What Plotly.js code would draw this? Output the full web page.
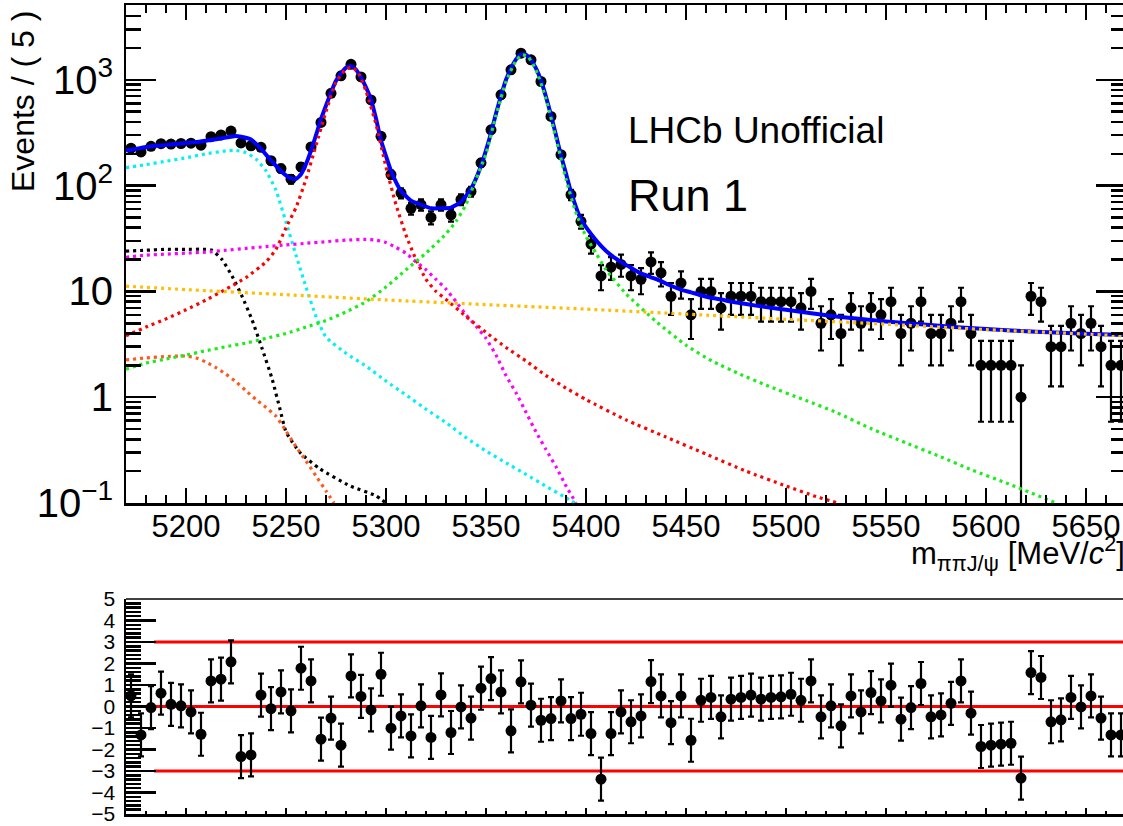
<!DOCTYPE html>
<html><head><meta charset="utf-8">
<script src="https://cdn.plot.ly/plotly-3.0.1.min.js"></script>
<style>html,body{margin:0;padding:0;overflow:hidden;background:#fff}</style>
</head><body><div id="plot" style="width:1128px;height:826px"></div>
<script>
// ---- data ----
const binCenters = [5172.5,5177.5,5182.5,5187.5,5192.5,5197.5,5202.5,5207.5,5212.5,5217.5,
5222.5,5227.5,5232.5,5237.5,5242.5,5247.5,5252.5,5257.5,5262.5,5267.5,
5272.5,5277.5,5282.5,5287.5,5292.5,5297.5,5302.5,5307.5,5312.5,5317.5,
5322.5,5327.5,5332.5,5337.5,5342.5,5347.5,5352.5,5357.5,5362.5,5367.5,
5372.5,5377.5,5382.5,5387.5,5392.5,5397.5,5402.5,5407.5,5412.5,5417.5,
5422.5,5427.5,5432.5,5437.5,5442.5,5447.5,5452.5,5457.5,5462.5,5467.5,
5472.5,5477.5,5482.5,5487.5,5492.5,5497.5,5502.5,5507.5,5512.5,5517.5,
5522.5,5527.5,5532.5,5537.5,5542.5,5547.5,5552.5,5557.5,5562.5,5567.5,
5572.5,5577.5,5582.5,5587.5,5592.5,5597.5,5602.5,5607.5,5612.5,5617.5,
5622.5,5627.5,5632.5,5637.5,5642.5,5647.5,5652.5,5657.5,5662.5,5667.5];

const events = [226,208,235,249,247,250,252,241,290,301,
328,253,238,230,172,145,115,150,232,395,
745,1090,1400,1065,646,292,127,85,61,66,
50,66,53,74,88,164,337,722,1243,1785,
1545,964,451,196,82,46,28,14,17,18,
14,13,19,15,9,12,6,10,10,7,
9,9,9,8,8,8,8,7,10,5,
6,4,7,5,7,6,8,4,5,8,
4,4,5,8,4,2,2,2,2,1,
9,8,3,3,5,4,5,3,2,2];

const pulls = [0.5,-1.32,-0.05,0.62,0.1,0.03,-0.25,-1.29,1.19,1.27,
2.08,-2.33,-2.25,0.53,-0.1,0.68,-0.2,1.78,1.19,-1.52,
-0.54,-1.8,1.42,0.47,-0.16,1.5,-1.01,-0.44,-1.37,0.03,
-1.44,0.54,-1.21,-0.02,-0.54,0.85,1.3,0.68,-1.13,1.15,
0.06,-0.64,-0.56,0.26,-0.56,-0.36,-1.26,-3.38,-1.26,-0.25,
-0.71,-0.44,1.16,0.49,-0.75,0.49,-1.57,0.29,0.42,-0.48,
0.34,0.42,0.53,0.34,0.42,0.45,0.57,0.29,1.19,-0.48,
0.03,-0.9,0.49,-0.25,0.65,0.26,0.99,-0.59,-0.05,1.07,
-0.48,-0.39,0.15,1.19,-0.31,-1.86,-1.8,-1.75,-1.71,-3.33,
1.58,1.35,-0.71,-0.62,0.42,-0.02,0.49,-0.54,-1.32,-1.32];
const pullErr = 1;

// total fit (blue)
const totalM = [5170,5172.5,5177.5,5182.5,5187.5,5192.5,5197.5,5202.5,5207.5,5212.5,5217.5,5222.5,5225,5227.5,5232.5,5237.5,5242.5,5247.5,5252.5,5255,5257.5,5260,5262.5,5265,5267.5,5270,5272.5,5275,5277.5,5280,5282.5,5285,5287.5,5290,5292.5,5295,5297.5,5300,5302.5,5305,5307.5,5312.5,5317.5,5322.5,5327.5,5332.5,5337.5,5342.5,5347.5,5350,5352.5,5355,5357.5,5360,5362.5,5365,5367.5,5370,5372.5,5375,5377.5,5380,5382.5,5385,5387.5,5390,5392.5,5397.5,5402.5,5407.5,5412.5,5417.5,5422.5,5427.5,5432.5,5437.5,5442.5,5447.5,5452.5,5457.5,5462.5,5467.5,5472.5,5480,5490,5500,5525,5550,5575,5600,5625,5650,5670];
const totalV = [214,218,227,236,239,245,250,256,261,270,279,290,294,290,273,222,173,137,117,116,128,160,214,300,425,570,760,980,1149,1300,1347,1250,1050,850,650,430,266,190,138,108,89,72,66,61,61,62,70,93,153,215,313,480,704,1000,1283,1560,1737,1720,1543,1280,984,690,463,300,192,130,87,48,35,27,22,19,16.7,14.8,13.6,12.5,11.3,10.4,9.8,9.2,8.7,8.4,8.0,7.6,7.1,6.7,5.8,5.2,4.75,4.4,4.15,3.97,3.86];

// components (dotted)
const cyanM = [5170,5180,5190,5200,5210,5220,5225,5230,5235,5240,5245,5250,5255,5260,5265,5270,5280,5290,5300,5310,5320,5330,5340,5350,5360,5370,5380,5390,5395];
const cyanV = [148,158,170,183,200,213,215,205,178,138,90,45,22,11,5.8,3.7,2.6,1.97,1.42,1.05,0.77,0.575,0.415,0.31,0.24,0.186,0.144,0.112,0.098];

const blackM = [5170,5180,5190,5200,5210,5213,5218,5223,5228,5233,5238,5243,5247,5250,5257,5267,5282,5295,5300];
const blackV = [24,24.5,25,25,25,24.5,20,14,9,5.4,2.9,1.5,0.77,0.47,0.3,0.21,0.145,0.117,0.1];

const oredM = [5170,5180,5190,5200,5205,5210,5215,5220,5225,5230,5235,5240,5245,5250,5255,5260,5265,5270,5274];
const oredV = [2.25,2.35,2.42,2.45,2.35,2.15,1.9,1.65,1.4,1.15,0.95,0.8,0.66,0.48,0.34,0.25,0.18,0.13,0.1];

const magM = [5170,5180,5190,5200,5210,5220,5230,5240,5250,5260,5270,5280,5290,5295,5300,5305,5310,5315,5320,5325,5330,5335,5340,5345,5350,5355,5360,5365,5370,5375,5380,5385,5390,5395];
const magV = [21,22,22.5,23,23.5,24.5,25.5,26.5,27.5,28.5,29.5,30.5,31,30.5,29,26,23,19,16,13,10.5,8,6,4.7,3.6,2.5,1.6,1.1,0.72,0.47,0.32,0.22,0.145,0.1];

const redM = [5170,5180,5190,5200,5210,5220,5230,5240,5245,5250,5255,5260,5265,5270,5275,5280,5283,5286,5290,5295,5300,5305,5310,5315,5320,5325,5330,5340,5350,5360,5370,5380,5390,5400,5420,5440,5460,5480,5500,5515,5526];
const redV = [3.8,4.6,5.5,6.7,8.3,10.5,13.5,19,25,40,62,115,240,500,950,1260,1310,1180,780,380,150,66,34,20,13,10,8.4,5.8,4.1,2.95,2.2,1.6,1.22,0.95,0.61,0.42,0.29,0.2,0.145,0.115,0.1];

const greenM = [5170,5180,5190,5200,5210,5220,5230,5240,5250,5260,5270,5280,5290,5300,5310,5320,5330,5335,5340,5345,5350,5355,5360,5365,5368,5371,5375,5380,5385,5390,5395,5400,5405,5410,5420,5435,5450,5463,5477,5490,5510,5525,5543,5560,5577,5593,5610,5635];
const greenV = [1.84,2.1,2.3,2.5,2.75,3.0,3.25,3.6,4.0,4.6,5.3,6.4,8.0,11,16,23,35,46,66,115,200,460,960,1520,1720,1650,1240,660,280,115,55,33,23,16,9.5,5.2,3.1,2.2,1.65,1.3,0.93,0.72,0.5,0.37,0.275,0.205,0.155,0.1];

const orangeM = [5170,5200,5250,5300,5350,5400,5450,5500,5550,5600,5650,5670];
const orangeV = [11.2,10.4,9.3,8.3,7.5,6.8,6.1,5.45,4.9,4.35,3.95,3.78];

const pullRefLevels = [3, 0, -3];
const pullRefRange = [5184, 5670];

// ---- build ----
const FONT = 'Liberation Sans, Arial, Helvetica, sans-serif';
const eventErr = events.map(v => Math.sqrt(v));
const dot = '3px,4px';

function comp(m, v, color) {
  return {x: m, y: v, mode: 'lines', type: 'scatter', xaxis: 'x', yaxis: 'y',
    line: {color: color, width: 3.2, dash: dot, shape: 'spline', smoothing: 0.5},
    hoverinfo: 'skip', showlegend: false};
}

const traces = [
  {x: binCenters, y: events, mode: 'markers', type: 'scatter', xaxis: 'x', yaxis: 'y',
   marker: {color: '#000', size: 11},
   error_y: {type: 'data', array: eventErr, arrayminus: eventErr, color: '#000', thickness: 2.2, width: 3},
   showlegend: false},
  {x: totalM, y: totalV, mode: 'lines', type: 'scatter', xaxis: 'x', yaxis: 'y',
   line: {color: '#0000ff', width: 4, shape: 'spline', smoothing: 0.5}, showlegend: false},
  comp(cyanM, cyanV, '#00f2f2'),
  comp(blackM, blackV, '#000000'),
  comp(oredM, oredV, '#ff5a1e'),
  comp(magM, magV, '#ff00ff'),
  comp(redM, redV, '#ff0000'),
  comp(greenM, greenV, '#18ee18'),
  comp(orangeM, orangeV, '#ffbf00'),
];
pullRefLevels.forEach(l => traces.push({
  x: pullRefRange, y: [l, l], mode: 'lines', type: 'scatter', xaxis: 'x2', yaxis: 'y2',
  line: {color: '#ff0000', width: 3}, showlegend: false, hoverinfo: 'skip'}));
traces.push({x: binCenters, y: pulls, mode: 'markers', type: 'scatter', xaxis: 'x2', yaxis: 'y2',
  marker: {color: '#000', size: 11},
  error_y: {type: 'constant', value: pullErr, color: '#000', thickness: 2.2, width: 3},
  showlegend: false});

const W = 1128, H = 826, L = 126, R = 2, T = 5, B = 12;
const PW = W - L - R, PH = H - T - B;
const py = p => (H - B - p) / PH;   // pixel y -> paper
const px = p => (p - L) / PW;       // pixel x -> paper

const layout = {
  width: W, height: H,
  margin: {l: L, r: R, t: T, b: B},
  paper_bgcolor: '#fff', plot_bgcolor: '#fff',
  font: {family: FONT, color: '#000'},
  showlegend: false,
  xaxis: {domain: [0, 1], range: [5170, 5670], anchor: 'y', showgrid: false, zeroline: false,
    showline: true, linewidth: 2.5, linecolor: '#000', mirror: 'ticks',
    ticks: 'inside', ticklen: 15, tickwidth: 2.5, tickcolor: '#000', tick0: 5200, dtick: 50,
    minor: {ticks: 'inside', dtick: 10, ticklen: 8, tickwidth: 2.5, tickcolor: '#000', showgrid: false},
    tickfont: {size: 31, family: FONT}, ticklabelstandoff: -6},
  yaxis: {domain: [py(503), 1], type: 'log', range: [-1, 3.707], anchor: 'x', showgrid: false, zeroline: false,
    showline: true, linewidth: 2.5, linecolor: '#000', mirror: 'ticks',
    ticks: 'inside', ticklen: 30, tickwidth: 2.5, tickcolor: '#000', dtick: 1, exponentformat: 'power',
    minor: {ticks: 'inside', dtick: 'D1', ticklen: 15, tickwidth: 2.5, tickcolor: '#000', showgrid: false},
    tickfont: {size: 32, family: FONT}, ticklabelstandoff: 4},
  xaxis2: {domain: [0, 1], range: [5170, 5670], anchor: 'y2', showgrid: false, zeroline: false,
    showline: true, linewidth: 2.5, linecolor: '#000',
    ticks: 'inside', ticklen: 6, tickwidth: 2, tickcolor: '#000', tick0: 5200, dtick: 50,
    minor: {ticks: 'inside', dtick: 10, ticklen: 3, tickwidth: 2, tickcolor: '#000', showgrid: false},
    showticklabels: false},
  yaxis2: {domain: [0, py(599)], range: [-5, 5], anchor: 'x2', showgrid: false, zeroline: false,
    showline: true, linewidth: 2.5, linecolor: '#000',
    ticks: 'inside', ticklen: 30, tickwidth: 2.2, tickcolor: '#000', dtick: 1, tick0: 0,
    minor: {ticks: 'inside', dtick: 0.2, ticklen: 15, tickwidth: 2.5, tickcolor: '#000', showgrid: false},
    tickfont: {size: 21, family: FONT}, ticklabelstandoff: 4},
  shapes: [
    {type: 'line', xref: 'x2 domain', yref: 'y2 domain', x0: 0, x1: 1, y0: 1, y1: 1,
     line: {color: '#000', width: 1.5}}
  ],
  annotations: [
    {text: 'Events / ( 5 )', textangle: -90, xref: 'paper', yref: 'paper',
     x: px(23), y: py(102), xanchor: 'center', yanchor: 'middle', showarrow: false,
     font: {size: 32, family: FONT}},
    {text: 'LHCb Unofficial', xref: 'paper', yref: 'paper', x: px(626), y: py(131),
     xanchor: 'left', yanchor: 'middle', showarrow: false, font: {size: 37, family: FONT}},
    {text: 'Run 1', xref: 'paper', yref: 'paper', x: px(626), y: py(196),
     xanchor: 'left', yanchor: 'middle', showarrow: false, font: {size: 45, family: FONT}},
    {text: 'm<sub>ππJ/ψ</sub> [MeV/<i>c</i><sup>2</sup>]', xref: 'paper', yref: 'paper',
     x: px(1127), y: py(553), xanchor: 'right', yanchor: 'middle', showarrow: false,
     font: {size: 31, family: FONT}}
  ]
};

Plotly.newPlot('plot', traces, layout, {staticPlot: true, displayModeBar: false});
</script>
</body></html>
